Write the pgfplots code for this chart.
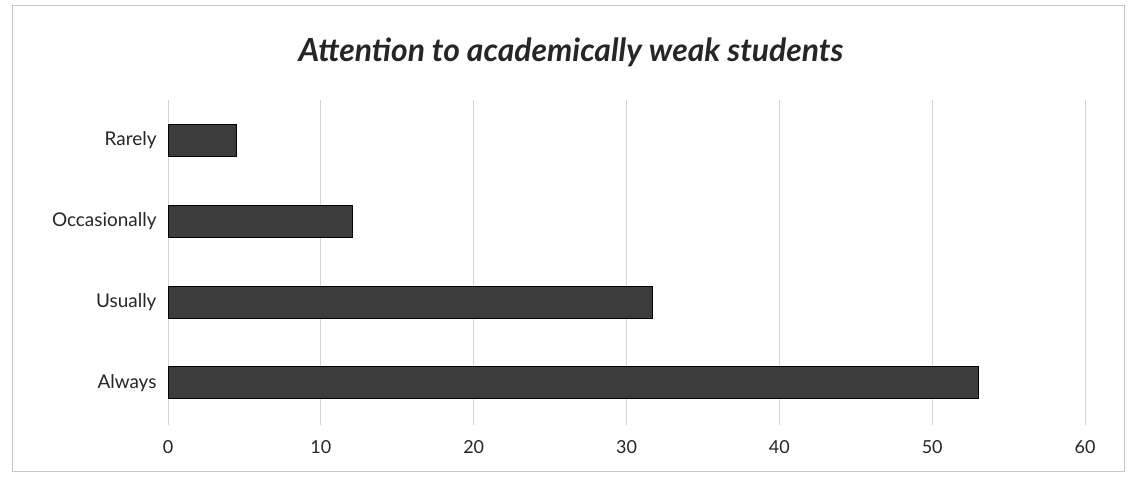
\documentclass[border=0pt]{standalone}
\usepackage{fontspec}
\setmainfont{Lato}
\usepackage{pgfplots}
\pgfplotsset{compat=1.18}
\definecolor{barfill}{HTML}{3C3C3C}
\definecolor{gridc}{HTML}{D4D4D4}
\begin{document}
\begin{tikzpicture}[x=1bp,y=1bp]
\path[use as bounding box] (0,0) rectangle (1128,477);
\fill[white] (0,0) rectangle (1128,477);
\draw[gray!45, line width=0.8bp] (12,6) rectangle (1124,472);
\node[font=\fontsize{32}{36}\selectfont\bfseries\itshape, text=black!85] at (571,425) {Attention to academically weak students};
\begin{axis}[
  at={(168bp,52bp)}, anchor=south west,
  scale only axis,
  width=917bp, height=325bp,
  xbar, bar width=32bp,
  xmin=0, xmax=60,
  ymin=-0.52, ymax=3.5,
  xtick={0,10,...,60},
  ytick={0,1,2,3},
  yticklabels={Always,Usually,Occasionally,Rarely},
  axis line style={draw=none},
  major tick length=0pt,
  xmajorgrids, major grid style={gridc, line width=0.8bp},
  tick label style={font=\fontsize{18}{22}\selectfont, text=black!85},
  yticklabel style={font=\fontsize{19}{22}\selectfont, xshift=-8bp},
  /pgf/number format/assume math mode=true,
  xticklabel style={yshift=-12bp},
]
\addplot[fill=barfill, draw=black, line width=1bp] coordinates {
  (53.0,0) (31.7,1) (12.1,2) (4.5,3)
};
\end{axis}
\end{tikzpicture}
\end{document}
